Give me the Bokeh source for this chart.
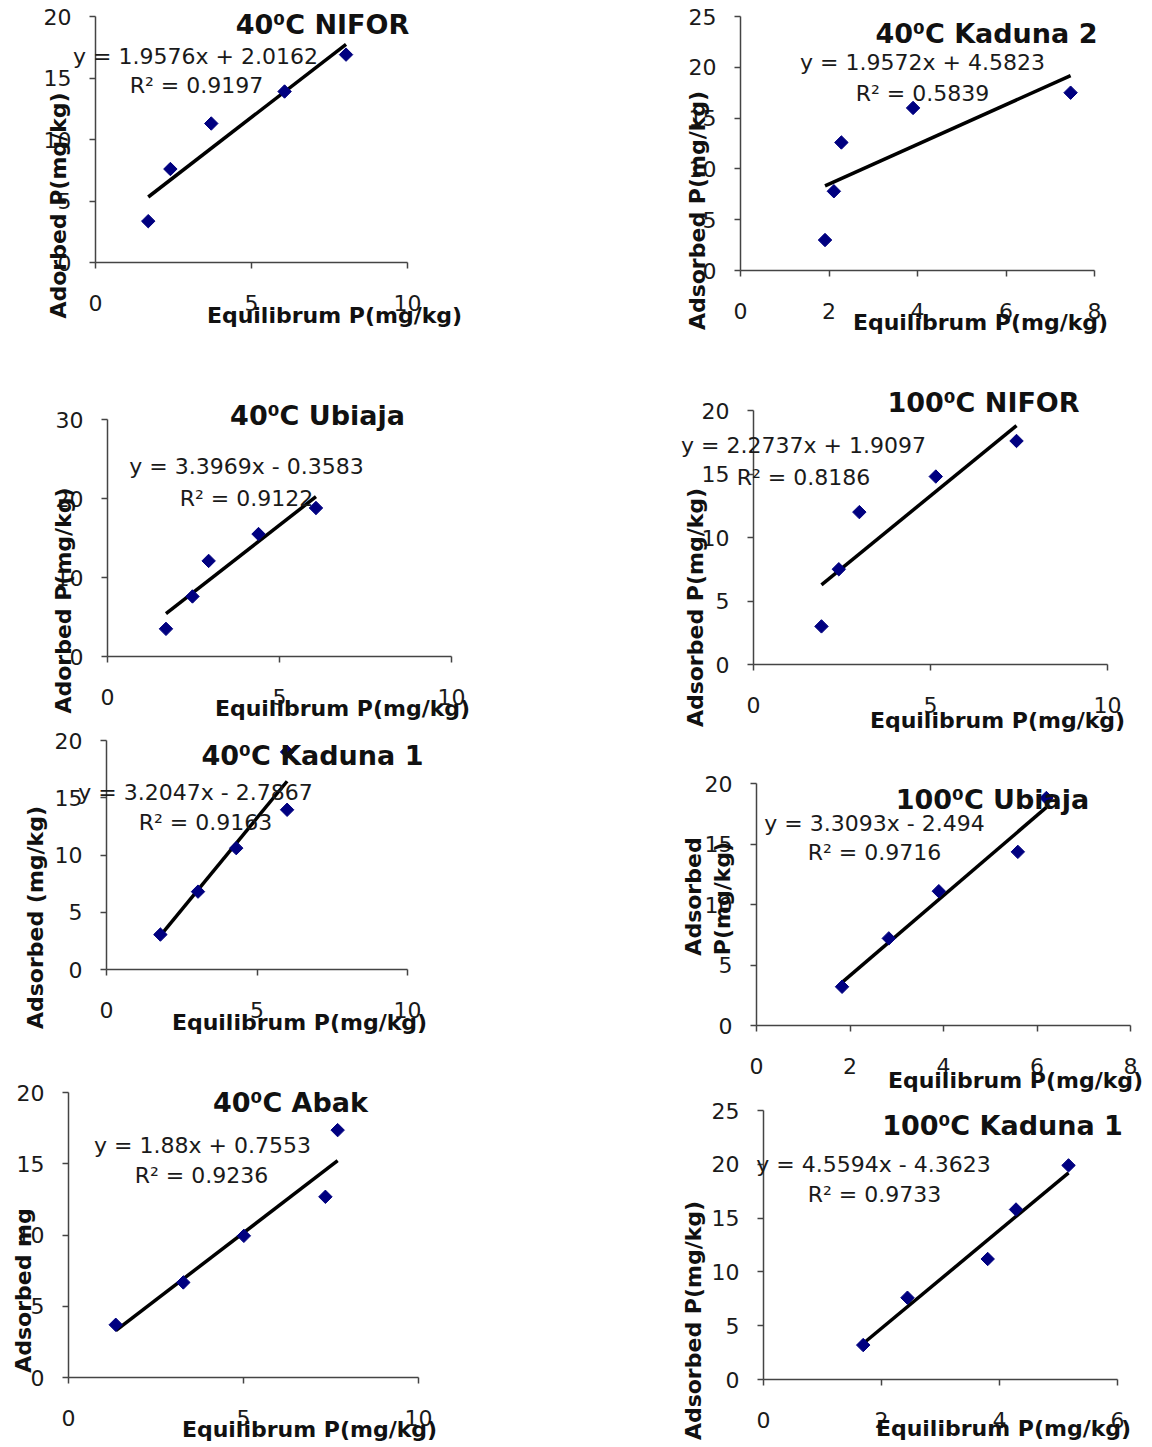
import numpy as np
from bokeh.plotting import figure
from bokeh.layouts import row, column
from bokeh.models import Label, FixedTicker, Range1d
from bokeh.embed import file_html
from bokeh.resources import INLINE

# ---------------- data ----------------
nifor40_x = [1.69, 2.40, 3.71, 6.06, 8.03]
nifor40_y = [3.36, 7.6, 11.3, 13.9, 16.9]
ubiaja40_x = [1.70, 2.47, 2.94, 4.39, 6.06]
ubiaja40_y = [3.5, 7.6, 12.1, 15.5, 18.8]
kaduna1_40_x = [1.79, 3.04, 4.31, 6.0, 6.0]
kaduna1_40_y = [3.05, 6.8, 10.6, 13.95, 19.0]
abak40_x = [1.35, 3.28, 5.01, 7.34, 7.69]
abak40_y = [3.7, 6.67, 9.94, 12.68, 17.36]
kaduna2_40_x = [1.91, 2.11, 2.28, 3.90, 7.46]
kaduna2_40_y = [3.0, 7.8, 12.6, 16.0, 17.5]
nifor100_x = [1.92, 2.41, 2.99, 5.15, 7.43]
nifor100_y = [3.0, 7.5, 12.0, 14.8, 17.6]
ubiaja100_x = [1.83, 2.83, 3.90, 5.59, 6.20]
ubiaja100_y = [3.2, 7.2, 11.1, 14.35, 18.8]
kaduna1_100_x = [1.69, 2.44, 3.80, 4.28, 5.17]
kaduna1_100_y = [3.2, 7.6, 11.2, 15.8, 19.9]

panel_titles = ["40⁰C NIFOR", "40⁰C Ubiaja", "40⁰C Kaduna 1", "40⁰C Abak",
                "40⁰C Kaduna 2", "100⁰C NIFOR", "100⁰C Ubiaja", "100⁰C Kaduna 1"]
slopes = [1.9576, 3.3969, 3.2047, 1.88, 1.9572, 2.2737, 3.3093, 4.5594]
intercepts = [2.0162, -0.3583, -2.7867, 0.7553, 4.5823, 1.9097, -2.494, -4.3623]
equation_texts = ["y = 1.9576x + 2.0162", "y = 3.3969x - 0.3583", "y = 3.2047x - 2.7867",
                  "y = 1.88x + 0.7553", "y = 1.9572x + 4.5823", "y = 2.2737x + 1.9097",
                  "y = 3.3093x - 2.494", "y = 4.5594x - 4.3623"]
r2_texts = ["R² = 0.9197", "R² = 0.9122", "R² = 0.9163", "R² = 0.9236",
            "R² = 0.5839", "R² = 0.8186", "R² = 0.9716", "R² = 0.9733"]
y_titles = [["Adorbed P(mg/kg)"], ["Adorbed P(mg/kg)"], ["Adsorbed (mg/kg)"], ["Adsorbed mg"],
            ["Adsorbed P(mg/kg)"], ["Adsorbed P(mg/kg)"], ["Adsorbed", "P(mg/kg)"], ["Adsorbed P(mg/kg)"]]
x_title = "Equilibrum P(mg/kg)"

x_ticks_10 = [0, 5, 10]
x_ticks_8 = [0, 2, 4, 6, 8]
x_ticks_6 = [0, 2, 4, 6]
y_ticks_20 = [0, 5, 10, 15, 20]
y_ticks_25 = [0, 5, 10, 15, 20, 25]
y_ticks_30 = [0, 10, 20, 30]

xs = [nifor40_x, ubiaja40_x, kaduna1_40_x, abak40_x, kaduna2_40_x, nifor100_x, ubiaja100_x, kaduna1_100_x]
ys = [nifor40_y, ubiaja40_y, kaduna1_40_y, abak40_y, kaduna2_40_y, nifor100_y, ubiaja100_y, kaduna1_100_y]
x_tick_sets = [x_ticks_10, x_ticks_10, x_ticks_10, x_ticks_10, x_ticks_8, x_ticks_10, x_ticks_8, x_ticks_6]
y_tick_sets = [y_ticks_20, y_ticks_30, y_ticks_20, y_ticks_20, y_ticks_25, y_ticks_20, y_ticks_20, y_ticks_25]

# ---------------- layout (picture pixel positions) ----------------
# box: figure rectangle; axes: position of the axis lines (left, top, right, bottom)
# title/eq/r2/xt: text centres; yt: list of y-title centres
LAYOUT = [
    dict(box=(0, 0, 644, 345), axes=(95, 16, 407, 262),
         title=(322, 24), eq=(195, 56), r2=(196, 85), yt=[(58, 205)], xt=(334, 315)),
    dict(box=(0, 345, 644, 722), axes=(107, 419, 451, 656),
         title=(317, 415), eq=(246, 466), r2=(246, 498), yt=[(63, 600)], xt=(342, 708)),
    dict(box=(0, 722, 644, 1040), axes=(106, 740, 407, 969),
         title=(312, 755), eq=(195, 792), r2=(205, 822), yt=[(35, 917)], xt=(299, 1022)),
    dict(box=(0, 1040, 644, 1445), axes=(68, 1092, 418, 1377),
         title=(290, 1102), eq=(202, 1145), r2=(201, 1175), yt=[(23, 1290)], xt=(309, 1429)),
    dict(box=(644, 0, 1148, 340), axes=(740, 16, 1094, 270),
         title=(986, 33), eq=(922, 62), r2=(922, 93), yt=[(697, 210)], xt=(980, 322)),
    dict(box=(644, 340, 1148, 740), axes=(753, 410, 1107, 664),
         title=(983, 402), eq=(803, 445), r2=(803, 477), yt=[(695, 607)], xt=(997, 720)),
    dict(box=(644, 740, 1148, 1095), axes=(756, 783, 1130, 1025),
         title=(992, 799), eq=(874, 823), r2=(874, 852), yt=[(693, 896), (722, 898)], xt=(1015, 1080)),
    dict(box=(644, 1095, 1148, 1445), axes=(763, 1110, 1117, 1379),
         title=(1002, 1125), eq=(873, 1164), r2=(874, 1194), yt=[(693, 1320)], xt=(1003, 1428)),
]

FONT = "DejaVu Sans"
AXIS_COLOR = "#444444"
TEXT_COLOR = "#1a1a1a"


def make_panel(i):
    lay = LAYOUT[i]
    fx0, fy0, fx1, fy1 = lay["box"]
    l, t, r, b = lay["axes"]
    xt = x_tick_sets[i]
    yt = y_tick_sets[i]
    xmax, ymax = xt[-1], yt[-1]
    kx = xmax / (r - l)
    ky = ymax / (b - t)
    p = figure(width=fx1 - fx0, height=fy1 - fy0,
               x_range=Range1d((fx0 - l) * kx, (fx1 - l) * kx),
               y_range=Range1d((b - fy1) * ky, (b - fy0) * ky),
               output_backend="svg", toolbar_location=None,
               min_border_left=0, min_border_top=0,
               min_border_right=0, min_border_bottom=0)
    p.xgrid.visible = False
    p.ygrid.visible = False
    p.outline_line_color = None
    p.background_fill_color = "white"
    p.border_fill_color = "white"

    p.xaxis.ticker = FixedTicker(ticks=xt)
    p.yaxis.ticker = FixedTicker(ticks=yt)
    p.xaxis.fixed_location = 0
    p.yaxis.fixed_location = 0
    p.xaxis.bounds = (0, xmax)
    p.yaxis.bounds = (0, ymax)
    for ax in (p.xaxis[0], p.yaxis[0]):
        ax.axis_line_color = AXIS_COLOR
        ax.axis_line_width = 1.5
        ax.major_tick_line_color = AXIS_COLOR
        ax.major_tick_line_width = 1.5
        ax.major_tick_out = 6
        ax.major_tick_in = 0
        ax.minor_tick_line_color = None
        ax.major_label_text_font = FONT
        ax.major_label_text_font_size = "22px"
        ax.major_label_text_color = TEXT_COLOR
    p.xaxis.major_label_standoff = 26
    p.yaxis.major_label_standoff = 18

    x = np.array(xs[i], dtype=float)
    y = np.array(ys[i], dtype=float)
    # trend line from the printed equation, over the data's x extent
    lx = np.array([x.min(), x.max()])
    ly = slopes[i] * lx + intercepts[i]
    p.line(lx, ly, line_color="black", line_width=3.5)
    p.scatter(x, y, marker="square", size=9.5, angle=np.pi / 4,
              fill_color="#000080", line_color="#000080")

    def txt(pos, text, size, bold=False, angle=0.0, color=TEXT_COLOR):
        X, Y = pos
        p.add_layout(Label(x=(X - l) * kx, y=(b - Y) * ky,
                           text=text, text_font=FONT, text_font_size=f"{size}px",
                           text_font_style="bold" if bold else "normal",
                           text_align="center", text_baseline="middle",
                           angle=angle, text_color=color))

    txt(lay["title"], panel_titles[i], 27, bold=True, color="#111111")
    txt(lay["eq"], equation_texts[i], 22)
    txt(lay["r2"], r2_texts[i], 22)
    for pos, line in zip(lay["yt"], y_titles[i]):
        txt(pos, line, 22, bold=True, angle=np.pi / 2, color="#111111")
    txt(lay["xt"], x_title, 22, bold=True, color="#111111")
    return p


figs = [make_panel(i) for i in range(8)]
layout = row(column(*figs[:4]), column(*figs[4:]))

open("out.html", "w").write(file_html(layout, INLINE))
